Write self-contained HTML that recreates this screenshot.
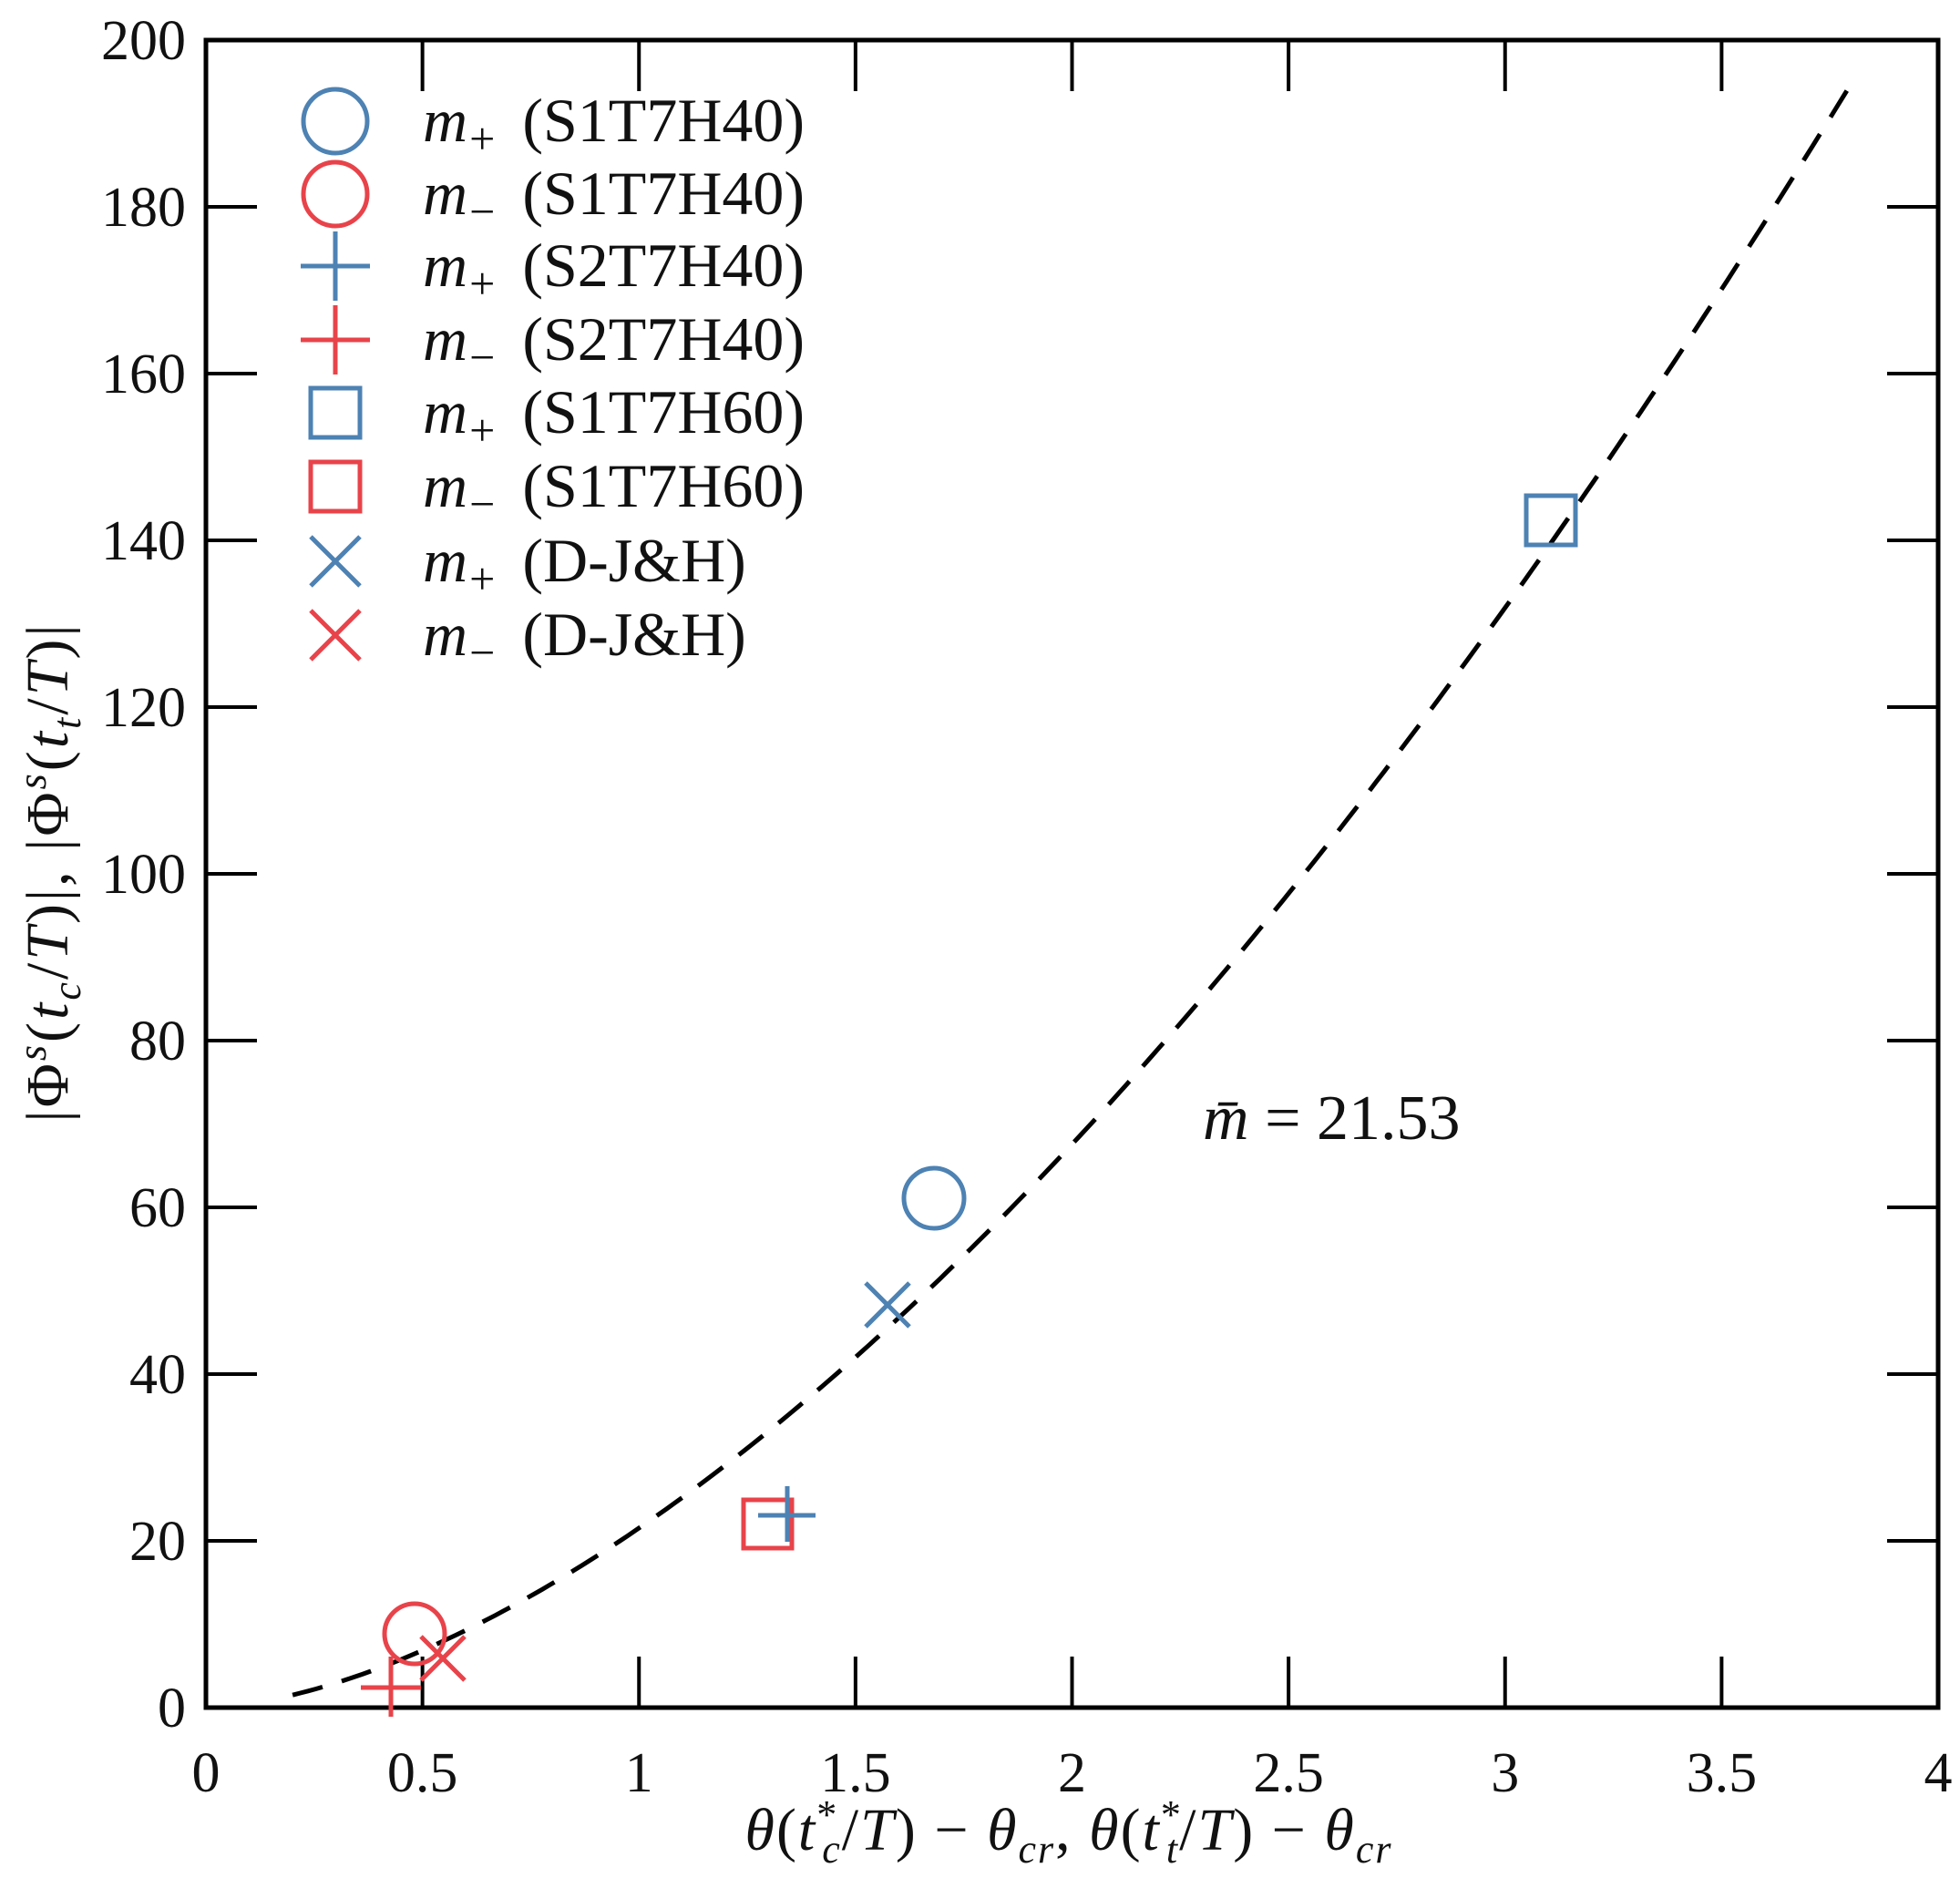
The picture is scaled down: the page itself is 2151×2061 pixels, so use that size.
<!DOCTYPE html>
<html><head><meta charset="utf-8"><style>
html,body{margin:0;padding:0;background:#fff;}
svg{display:block;}
text{font-family:"Liberation Serif",serif;fill:#111;}
</style></head><body>
<svg id="s" width="2151" height="2061" viewBox="0 0 2151 2061" xmlns="http://www.w3.org/2000/svg">
<rect x="226" y="44" width="1901" height="1830" fill="none" stroke="#000" stroke-width="5"/>
<g id="ticks" stroke="#000" stroke-width="4"></g>
<g id="labels" font-size="62"></g>
<path id="curve" fill="none" stroke="#000" stroke-width="5" stroke-dasharray="34,22"/>
<g fill="none" stroke-width="5">
  <circle cx="368" cy="133" r="35" stroke="#4d82b3"/>
  <circle cx="368" cy="213" r="35" stroke="#e8434a"/>
  <path d="M330 292h76M368 254v76" stroke="#4d82b3"/>
  <path d="M330 373h76M368 335v76" stroke="#e8434a"/>
  <rect x="341" y="426" width="54" height="54" stroke="#4d82b3"/>
  <rect x="341" y="507" width="54" height="54" stroke="#e8434a"/>
  <path d="M341 589l54 54M395 589l-54 54" stroke="#4d82b3"/>
  <path d="M341 670l54 54M395 670l-54 54" stroke="#e8434a"/>
  <circle cx="1025" cy="1315" r="33" stroke="#4d82b3"/>
  <rect x="1675" y="544" width="54" height="54" stroke="#4d82b3"/>
  <path d="M950 1408l48 48M998 1408l-48 48" stroke="#4d82b3"/>
  <rect x="816" y="1646" width="53" height="53" stroke="#e8434a"/>
  <path d="M832 1663h63M864 1631v61" stroke="#4d82b3"/>
  <circle cx="455" cy="1793" r="33" stroke="#e8434a"/>
  <path d="M462 1796l48 48M510 1796l-48 48" stroke="#e8434a"/>
  <path d="M396 1852h66M429 1818v66" stroke="#e8434a"/>
</g>
<g font-size="68">
  <text x="464" y="155"><tspan font-style="italic">m</tspan><tspan font-size="50" dy="14" dx="2">+</tspan><tspan dy="-14" dx="30">(S1T7H40)</tspan></text>
  <text x="464" y="235"><tspan font-style="italic">m</tspan><tspan font-size="50" dy="14" dx="2">−</tspan><tspan dy="-14" dx="30">(S1T7H40)</tspan></text>
  <text x="464" y="314"><tspan font-style="italic">m</tspan><tspan font-size="50" dy="14" dx="2">+</tspan><tspan dy="-14" dx="30">(S2T7H40)</tspan></text>
  <text x="464" y="395"><tspan font-style="italic">m</tspan><tspan font-size="50" dy="14" dx="2">−</tspan><tspan dy="-14" dx="30">(S2T7H40)</tspan></text>
  <text x="464" y="475"><tspan font-style="italic">m</tspan><tspan font-size="50" dy="14" dx="2">+</tspan><tspan dy="-14" dx="30">(S1T7H60)</tspan></text>
  <text x="464" y="556"><tspan font-style="italic">m</tspan><tspan font-size="50" dy="14" dx="2">−</tspan><tspan dy="-14" dx="30">(S1T7H60)</tspan></text>
  <text x="464" y="638"><tspan font-style="italic">m</tspan><tspan font-size="50" dy="14" dx="2">+</tspan><tspan dy="-14" dx="30">(D-J&amp;H)</tspan></text>
  <text x="464" y="719"><tspan font-style="italic">m</tspan><tspan font-size="50" dy="14" dx="2">−</tspan><tspan dy="-14" dx="30">(D-J&amp;H)</tspan></text>
  <text x="1320" y="1250" font-size="70"><tspan font-style="italic">m̄</tspan>  =  21.53</text>
  <text x="1173" y="2030" text-anchor="middle" font-size="66" letter-spacing="2"><tspan font-style="italic">θ</tspan>(<tspan font-style="italic">t</tspan><tspan font-size="44" dy="-24">*</tspan><tspan font-size="44" dx="-18" dy="38" font-style="italic">c</tspan><tspan dy="-14">/</tspan><tspan font-style="italic">T</tspan>)  −  <tspan font-style="italic">θ</tspan><tspan font-size="44" dy="14" font-style="italic">cr</tspan><tspan dy="-14">,   </tspan><tspan font-style="italic">θ</tspan>(<tspan font-style="italic">t</tspan><tspan font-size="44" dy="-24">*</tspan><tspan font-size="44" dx="-18" dy="38" font-style="italic">t</tspan><tspan dy="-14">/</tspan><tspan font-style="italic">T</tspan>)  −  <tspan font-style="italic">θ</tspan><tspan font-size="44" dy="14" font-style="italic">cr</tspan></text>
  <text transform="translate(74,957) rotate(-90)" text-anchor="middle" font-size="66" letter-spacing="3">|Φ<tspan font-size="44" dy="-24" font-style="italic">s</tspan><tspan dy="24">(</tspan><tspan font-style="italic">t</tspan><tspan font-size="44" dy="14" font-style="italic">c</tspan><tspan dy="-14">/</tspan><tspan font-style="italic">T</tspan>)|,   |Φ<tspan font-size="44" dy="-24" font-style="italic">s</tspan><tspan dy="24">(</tspan><tspan font-style="italic">t</tspan><tspan font-size="44" dy="14" font-style="italic">t</tspan><tspan dy="-14">/</tspan><tspan font-style="italic">T</tspan>)|</text>
</g>
</svg>
<script>
var X0=226,X1=2127,Y0=1874,Y1=44;
function px(x){return X0+(X1-X0)*x/4;}
function py(y){return Y0+(Y1-Y0)*y/200;}
var t=document.getElementById('ticks'),l=document.getElementById('labels'),NS='http://www.w3.org/2000/svg';
function el(n,a,p,txt){var e=document.createElementNS(NS,n);for(var k in a)e.setAttribute(k,a[k]);if(txt!=null)e.textContent=txt;p.appendChild(e);}
for(var i=0;i<=8;i++){var x=px(i*0.5);
 if(i>0&&i<8){el('line',{x1:x,y1:Y0,x2:x,y2:Y0-56},t);el('line',{x1:x,y1:Y1,x2:x,y2:Y1+56},t);}
 el('text',{x:x,y:1966,'text-anchor':'middle'},l,String(i*0.5));}
for(var j=0;j<=10;j++){var y=py(j*20);
 if(j>0&&j<10){el('line',{x1:X0,y1:y,x2:X0+56,y2:y},t);el('line',{x1:X1,y1:y,x2:X1-56,y2:y},t);}
 el('text',{x:204,y:y+21,'text-anchor':'end'},l,String(j*20));}
var d='';for(var k=0;k<=200;k++){var x=0.2+3.6*k/200;var y=21.53*Math.pow(x,1.65);d+=(k?'L':'M')+px(x).toFixed(1)+' '+py(y).toFixed(1);}
document.getElementById('curve').setAttribute('d',d);
</script>
</body></html>
